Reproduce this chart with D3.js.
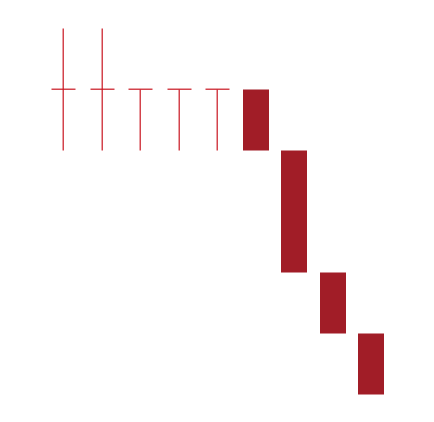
<!DOCTYPE html>
<html>
<head>
<meta charset="utf-8">
<script src="https://cdn.jsdelivr.net/npm/d3@7"></script>
<style>html,body{margin:0;padding:0;background:#fff;}</style>
</head>
<body>
<svg id="chart" width="434" height="422"></svg>
<script>
const categories = ["1","2","3","4","5","6","7","8","9"];
const openVals  = [5,5,5,5,5,5,4,2,1];
const highVals  = [6,6,5,5,5,5,4,2,1];
const lowVals   = [4,4,4,4,4,4,2,1,0];
const closeVals = [5,5,5,5,5,4,2,1,0];

const color = "#a11d27";
const lineColor = "#c8141f";
const svg = d3.select("#chart");
const x = d3.scalePoint().domain(categories).range([63.5, 371.5]);
const y = d3.scaleLinear().domain([0, 6]).range([394.5, 28.5]);

const data = categories.map((c, i) => ({c, o: openVals[i], h: highVals[i], l: lowVals[i], cl: closeVals[i]}));

const g = svg.append("g");
data.forEach(d => {
  const cx = Math.floor(x(d.c)) + 0.5;
  if (d.o === d.cl) {
    g.append("line").attr("x1", cx - 0.3).attr("x2", cx - 0.3)
      .attr("y1", y(d.h)).attr("y2", y(d.l))
      .attr("stroke", lineColor).attr("stroke-width", 1.2);
    const yy = y(d.o) - 0.3;
    g.append("line").attr("x1", cx - 12).attr("x2", cx + 12)
      .attr("y1", yy).attr("y2", yy)
      .attr("stroke", lineColor).attr("stroke-width", 1.2);
  } else {
    const top = y(Math.max(d.o, d.cl)), bot = y(Math.min(d.o, d.cl));
    g.append("rect").attr("x", cx - 13.5).attr("width", 26)
      .attr("y", top).attr("height", bot - top)
      .attr("fill", color);
  }
});
</script>
</body>
</html>
